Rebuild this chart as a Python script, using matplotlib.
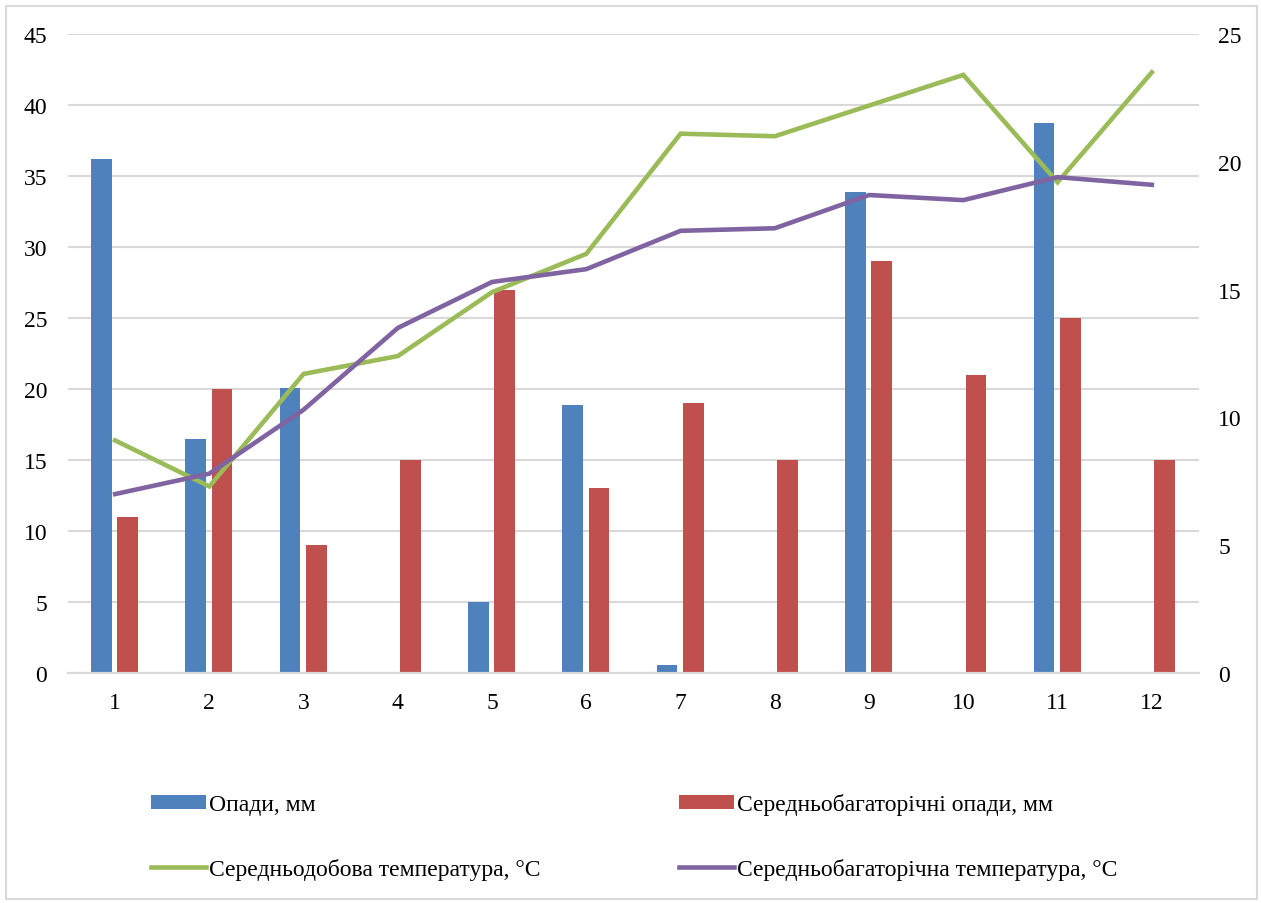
import matplotlib.pyplot as plt
import numpy as np
from matplotlib.patches import Rectangle

# data
months = [1, 2, 3, 4, 5, 6, 7, 8, 9, 10, 11, 12]
precip = [36.2, 16.5, 20.1, 0, 5.0, 18.9, 0.6, 0, 33.9, 0, 38.7, 0]
precip_norm = [11, 20, 9, 15, 27, 13, 19, 15, 29, 21, 25, 15]
temp_daily = [9.1, 7.3, 11.7, 12.4, 14.9, 16.4, 21.1, 21.0, 22.2, 23.4, 19.2, 23.5]
temp_norm = [7.0, 7.8, 10.3, 13.5, 15.3, 15.8, 17.3, 17.4, 18.7, 18.5, 19.4, 19.1]

labels = ['Опади, мм', 'Середньобагаторічні опади, мм',
          'Середньодобова температура, °С', 'Середньобагаторічна температура, °С']

plt.rcParams['font.family'] = ['Liberation Serif', 'DejaVu Serif']

fig = plt.figure(figsize=(12.61, 9.04), dpi=100)
ax = fig.add_axes([0.0539, 0.2544, 0.8969, 0.7069])
ax2 = ax.twinx()

x = np.arange(len(months))
w = 0.22
b1 = ax.bar(x - 0.145, precip, width=w, color='#4F81BD', zorder=2)
b2 = ax.bar(x + 0.135, precip_norm, width=w, color='#C0504D', zorder=2)

l1, = ax2.plot(x, temp_daily, color='#9BBB59', lw=3.3, solid_joinstyle='miter')
l2, = ax2.plot(x, temp_norm, color='#8064A2', lw=3.3, solid_joinstyle='miter')

ax.set_xlim(-0.5, 11.5)
ax.set_ylim(0, 45)
ax.set_yticks(range(0, 46, 5))
ax2.set_ylim(0, 25)
ax2.set_yticks(range(0, 26, 5))
ax.set_xticks(x)
ax.set_xticklabels([str(m) for m in months])

ax.yaxis.grid(True, color='#D9D9D9', lw=1.5, zorder=0)
ax.set_axisbelow(True)
for a in (ax, ax2):
    for s in ('top', 'left', 'right'):
        a.spines[s].set_visible(False)
    a.spines['bottom'].set_color('#D9D9D9')
    a.spines['bottom'].set_linewidth(1.5)
    a.tick_params(length=0, labelsize=17, colors='black')
ax.tick_params(axis='y', pad=15)
ax2.tick_params(axis='y', pad=14)
ax.tick_params(axis='x', pad=14)

fig.legend([b1, l1, b2, l2], [labels[0], labels[2], labels[1], labels[3]],
           ncol=2, loc='upper left', bbox_to_anchor=(0.112, 0.132),
           frameon=False, fontsize=17, handlelength=2.35, handleheight=0.55,
           handletextpad=0.12, columnspacing=5.85, labelspacing=1.8,
           borderaxespad=0)

fig.patches.append(Rectangle((6 / 1261, 4 / 904), 1251 / 1261, 893 / 904,
                             transform=fig.transFigure, fill=False,
                             edgecolor='#D9D9D9', lw=1.5))

fig.savefig('out.png', dpi=100)
